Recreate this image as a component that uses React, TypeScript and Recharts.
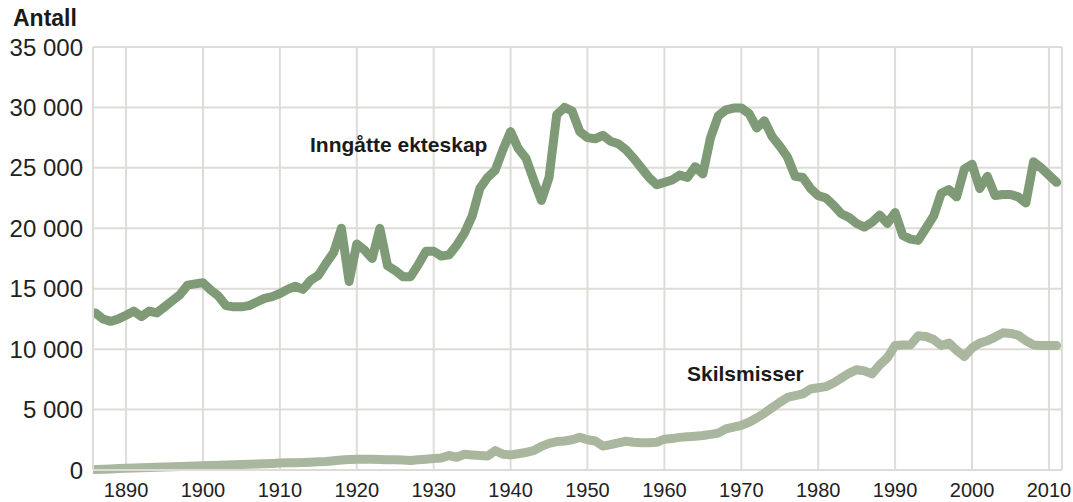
import React from "react";
import { LineChart, Line, XAxis, YAxis, CartesianGrid } from "recharts";

const years: number[] = [];
for (let y = 1886; y <= 2011; y++) years.push(y);

// Inngåtte ekteskap, 1886–2011
const marriages = [
  13000, 12500, 12300, 12500, 12800, 13150, 12700, 13150, 13000, 13500,
  14000, 14500, 15300, 15400, 15500, 14900, 14400, 13600, 13500, 13500,
  13600, 13900, 14200, 14350, 14600, 14950, 15200, 14950, 15700, 16100,
  17100, 18000, 20000, 15600, 18700, 18200, 17500, 20000, 16900, 16500,
  16000, 16000, 17000, 18100, 18100, 17700, 17800, 18600, 19600, 21000,
  23300, 24200, 24800, 26500, 28000, 26600, 25800, 24000, 22300, 24200,
  29400, 30000, 29700, 28000, 27500, 27400, 27700, 27200, 27000, 26500,
  25800, 25000, 24200, 23600, 23800, 24000, 24400, 24200, 25100, 24500,
  27500, 29300, 29800, 29950, 29950, 29500, 28300, 28900, 27600, 26800,
  25900, 24300, 24200, 23300, 22700, 22500, 21900, 21200, 20900, 20400,
  20100, 20500, 21100, 20400, 21300, 19400, 19100, 19000, 20000, 21000,
  22900, 23200, 22600, 24900, 25300, 23300, 24300, 22700, 22800, 22800,
  22600, 22100, 25500, 25000, 24400, 23800,
];

// Skilsmisser, 1886–2011
const divorces = [
  40, 60, 90, 120, 150, 170, 190, 210, 230, 250,
  270, 290, 310, 330, 350, 370, 390, 410, 430, 450,
  470, 490, 510, 540, 570, 590, 610, 630, 650, 680,
  710, 770, 820, 860, 890, 890, 880, 870, 850, 850,
  820, 790, 840, 890, 950, 1000, 1200, 1050, 1300, 1250,
  1200, 1150, 1600, 1300, 1250, 1350, 1450, 1600, 1950, 2200,
  2350, 2400, 2500, 2700, 2500, 2400, 1980, 2100, 2250, 2380,
  2300, 2250, 2250, 2300, 2550, 2600, 2700, 2750, 2800, 2850,
  2950, 3050, 3400, 3550, 3700, 3950, 4300, 4700, 5150, 5600,
  6000, 6150, 6300, 6700, 6800, 6900, 7200, 7600, 8000, 8300,
  8200, 7950, 8700, 9300, 10300, 10350, 10350, 11100, 11050, 10800,
  10300, 10500, 9900, 9400, 10100, 10500, 10700, 11000, 11350, 11300,
  11150, 10700, 10350, 10300, 10300, 10300,
];

const xTicks = [1890, 1900, 1910, 1920, 1930, 1940, 1950, 1960, 1970, 1980, 1990, 2000, 2010];
const yTicks = [0, 5000, 10000, 15000, 20000, 25000, 30000, 35000];

const data = years.map((year, i) => ({
  year,
  marriages: marriages[i],
  divorces: divorces[i],
}));

const fmt = (v: number) => String(v).replace(/\B(?=(\d{3})+(?!\d))/g, " ");

const font = "'Liberation Sans', Arial, sans-serif";
const gridColor = "#dedcd7";

export default function App() {
  return (
    <div style={{ position: "absolute", left: 0, top: 0, width: 1073, height: 502, background: "#fff" }}>
      <LineChart
        width={1073}
        height={502}
        data={data}
        margin={{ top: 47, right: 11, bottom: 0, left: 0 }}
      >
        <CartesianGrid stroke={gridColor} strokeWidth={2} />
        <XAxis
          dataKey="year"
          type="number"
          domain={[1885.7, 2011.7]}
          allowDataOverflow
          ticks={xTicks}
          height={32}
          tickLine={false}
          tickMargin={7}
          axisLine={{ stroke: gridColor, strokeWidth: 2 }}
          tick={{ fill: "#222", fontSize: 20, fontFamily: font }}
        />
        <YAxis
          type="number"
          domain={[0, 35000]}
          ticks={yTicks}
          width={93}
          tickLine={false}
          tickMargin={4}
          tickFormatter={fmt}
          axisLine={{ stroke: gridColor, strokeWidth: 2 }}
          tick={{ fill: "#222", fontSize: 24, fontFamily: font }}
        />
        <Line
          type="linear"
          dataKey="divorces"
          stroke="#a9b79f"
          strokeWidth={9}
          strokeLinecap="round"
          strokeLinejoin="round"
          dot={false}
          activeDot={false}
          isAnimationActive={false}
        />
        <Line
          type="linear"
          dataKey="marriages"
          stroke="#7f9a77"
          strokeWidth={9}
          strokeLinecap="round"
          strokeLinejoin="round"
          dot={false}
          activeDot={false}
          isAnimationActive={false}
        />
      </LineChart>
      <svg
        width={1073}
        height={502}
        style={{ position: "absolute", left: 0, top: 0, pointerEvents: "none" }}
      >
        <text x={13} y={26} fontFamily={font} fontWeight="bold" fontSize={23} fill="#1a1a1a">
          Antall
        </text>
        <text x={310} y={152} fontFamily={font} fontWeight="bold" fontSize={21} fill="#1a1a1a">
          Inngåtte ekteskap
        </text>
        <text x={687} y={381} fontFamily={font} fontWeight="bold" fontSize={21} fill="#1a1a1a">
          Skilsmisser
        </text>
      </svg>
    </div>
  );
}
